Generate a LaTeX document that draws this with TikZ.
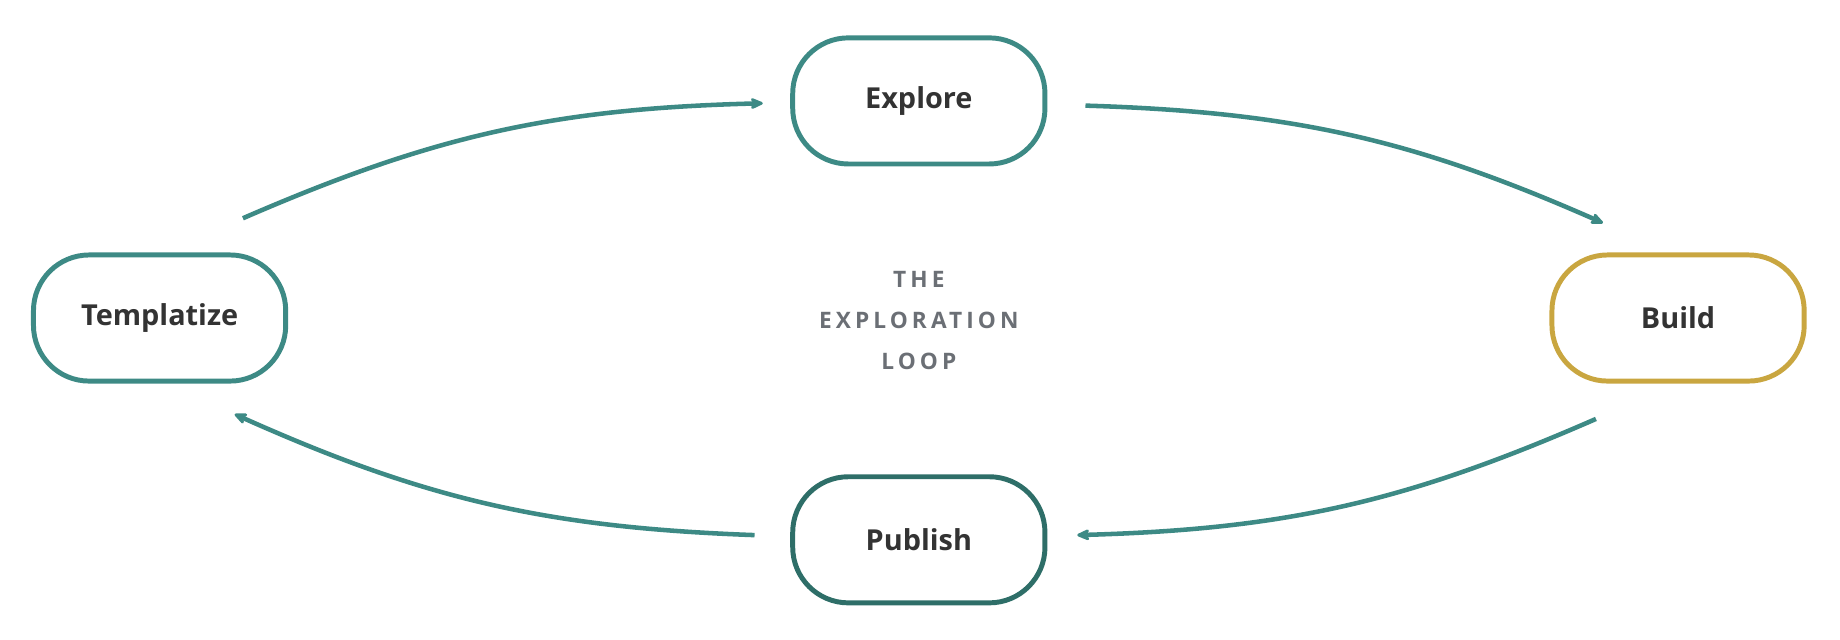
\documentclass[tikz,border=0pt]{standalone}
\usepackage{fontspec}
\setmainfont{Open Sans}
\usetikzlibrary{arrows.meta}
\definecolor{teal}{HTML}{3D8A85}
\definecolor{darkteal}{HTML}{2E6E68}
\definecolor{gold}{HTML}{C9A640}
\definecolor{ink}{HTML}{333333}
\definecolor{muted}{HTML}{6B6F75}
\begin{document}
\begin{tikzpicture}[x=0.02cm,y=-0.02cm,
    stage/.style={draw=teal,line width=2.4pt,rounded corners=27pt,minimum width=4.3cm,minimum height=2.15cm,text=ink,font=\fontsize{14}{16}\selectfont\bfseries},
    loop/.style={teal,line width=2.2pt,-{Stealth[length=8pt,width=7pt,round]}}]
        \useasboundingbox (0,0) rectangle (1568,545);
        
        \node[stage] (explore) at (783,86)  {Explore};
        \node[stage] (templ)   at (136,271) {Templatize};
        \node[stage,draw=gold] (build) at (1430,271) {Build};
        \node[stage,draw=darkteal] (publish) at (783,460) {Publish};
        %
        \node[text=muted,align=center,font=\fontsize{11}{20}\selectfont\bfseries,text width=4cm] (title) at (783,273)
            {\addfontfeature{LetterSpace=18}THE\\EXPLORATION\\LOOP};
        %
        \coordinate (t1) at (207,186); \coordinate (e1) at (650,88);
        \coordinate (e2) at (925,90);  \coordinate (b1) at (1366,190);
        \coordinate (b2) at (1360,357); \coordinate (p1) at (918,456);
        \coordinate (p2) at (643,456); \coordinate (t2) at (200,353);
        %
        \draw[loop] (t1) to[bend left=11] (e1);
        \draw[loop] (e2) to[bend left=11] (b1);
        \draw[loop] (b2) to[bend left=11] (p1);
        \draw[loop] (p2) to[bend left=11] (t2);
        
\end{tikzpicture}
\end{document}
